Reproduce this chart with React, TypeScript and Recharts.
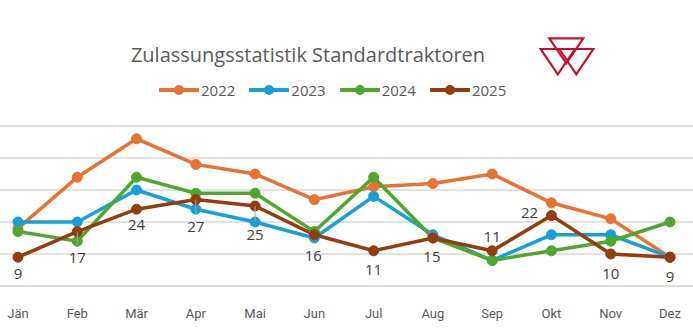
import React from "react";
import {
  CartesianGrid,
  LabelList,
  Line,
  LineChart,
  XAxis,
  YAxis,
} from "recharts";

// Monthly registrations
const months = ["Jän", "Feb", "Mär", "Apr", "Mai", "Jun", "Jul", "Aug", "Sep", "Okt", "Nov", "Dez"];
const values2022 = [18, 34, 46, 38, 35, 27, 31, 32, 35, 26, 21, 9];
const values2023 = [20, 20, 30, 24, 20, 15, 28, 16, 8, 16, 16, 9];
const values2024 = [17, 14, 34, 29, 29, 17, 34, 15, 8, 11, 14, 20];
const values2025 = [9, 17, 24, 27, 25, 16, 11, 15, 11, 22, 10, 9];
const yTicks = [0, 10, 20, 30, 40, 50];

const seriesList = [
  { key: "y2022", name: "2022", color: "#E97132", values: values2022 },
  { key: "y2023", name: "2023", color: "#17A0D8", values: values2023 },
  { key: "y2024", name: "2024", color: "#4EA72E", values: values2024 },
  { key: "y2025", name: "2025", color: "#953C0E", values: values2025 },
];

const data = months.map((month, i) => {
  const row: Record<string, string | number> = { month };
  seriesList.forEach((s) => {
    row[s.key] = s.values[i];
  });
  return row;
});

// label placement for the 2025 data labels (dx, dy from the point)
const labelShift: [number, number][] = [
  [0, 16], [0, 25], [0, 15], [0, 26], [0, 28], [-1, 20],
  [0, 18], [-1, 18], [0, -15], [-22, -4], [0, 19], [0, 19],
];

const font = "'Open Sans', 'Noto Sans', sans-serif";

interface LabelProps {
  x?: number;
  y?: number;
  value?: number | string;
  index?: number;
}

const Label2025: React.FC<LabelProps> = ({ x, y, value, index }) => {
  if (x === undefined || y === undefined || index === undefined) return null;
  const [dx, dy] = labelShift[index];
  const lx = x + dx;
  const ly = y + dy;
  return (
    <g>
      {dy >= 24 && (
        <line x1={x} y1={y} x2={x} y2={ly - 12} stroke="#a6a6a6" strokeWidth={1} />
      )}
      <text
        x={lx}
        y={ly}
        textAnchor="middle"
        dominantBaseline="central"
        fill="#404040"
        fontSize={15}
        fontFamily={font}
      >
        {value}
      </text>
    </g>
  );
};

const Logo = () => (
  <svg
    width={60}
    height={45}
    viewBox="536 34 60 45"
    style={{ position: "absolute", left: 536, top: 34 }}
  >
    <g fill="none" stroke="#C8102E" strokeWidth={2.2} strokeLinejoin="miter">
      <polygon points="549.3,38.3 583.3,38.3 566.3,63.3" />
      <polygon points="540.7,49 575,49 557.8,74.3" />
      <polygon points="559.3,49 593.3,49 576.3,74.3" />
    </g>
  </svg>
);

const LegendRow = () => (
  <div
    style={{
      position: "absolute",
      top: 80,
      left: 159,
      display: "flex",
      gap: 14,
      fontFamily: font,
      fontSize: 15,
      color: "#595959",
      lineHeight: "20px",
    }}
  >
    {seriesList.map((s) => (
      <div key={s.key} style={{ display: "flex", alignItems: "center" }}>
        <svg width={40} height={20}>
          <line x1={1} y1={10} x2={39} y2={10} stroke={s.color} strokeWidth={4} strokeLinecap="round" />
          <circle cx={20} cy={10} r={5} fill={s.color} />
        </svg>
        <span style={{ marginLeft: 2 }}>{s.name}</span>
      </div>
    ))}
  </div>
);

export default function App() {
  return (
    <div
      style={{
        position: "absolute",
        left: 0,
        top: 0,
        width: 693,
        height: 328,
        background: "#fff",
        overflow: "hidden",
      }}
    >
      <div
        style={{
          position: "absolute",
          top: 41,
          left: 0,
          width: 616,
          textAlign: "center",
          fontFamily: font,
          fontSize: 20,
          color: "#595959",
        }}
      >
        Zulassungsstatistik Standardtraktoren
      </div>
      <Logo />
      <LegendRow />
      <LineChart
        width={693}
        height={328}
        data={data}
        margin={{ top: 126, right: 0, bottom: 0, left: 0 }}
      >
        <CartesianGrid horizontal vertical={false} stroke="#d9d9d9" strokeWidth={1.3} />
        <XAxis
          dataKey="month"
          height={42}
          padding={{ left: 18, right: 23 }}
          axisLine={{ stroke: "#d9d9d9", strokeWidth: 1.3 }}
          tickLine={false}
          tickMargin={17}
          interval={0}
          tick={{ fill: "#595959", fontSize: 13, fontFamily: "'Roboto', sans-serif" }}
        />
        <YAxis hide domain={[0, 50]} ticks={yTicks} />
        {seriesList.map((s) => (
          <Line
            key={s.key}
            dataKey={s.key}
            name={s.name}
            stroke={s.color}
            strokeWidth={3.5}
            dot={{ r: 5, fill: s.color, stroke: s.color, strokeWidth: 1 }}
            activeDot={false}
            isAnimationActive={false}
          >
            {s.key === "y2025" && <LabelList dataKey={s.key} content={<Label2025 />} />}
          </Line>
        ))}
      </LineChart>
    </div>
  );
}
